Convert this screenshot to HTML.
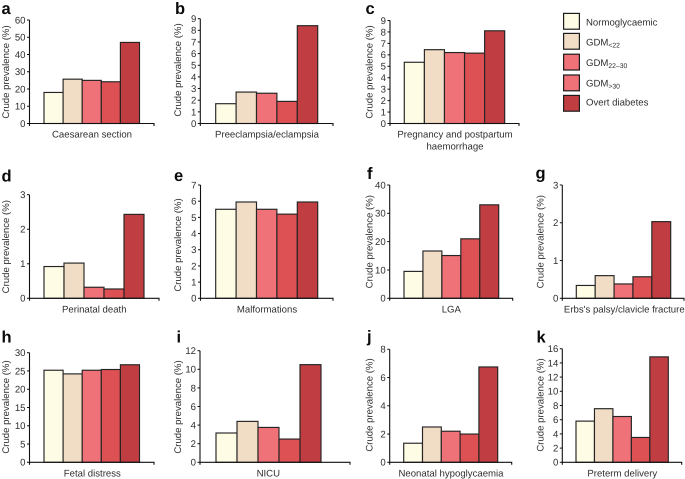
<!DOCTYPE html>
<html lang="en">
<head>
<meta charset="utf-8">
<title>Crude prevalence of pregnancy outcomes by glycaemic group</title>
<style>
html,body{margin:0;padding:0;background:#fff;}
svg{display:block;font-family:"Liberation Sans",Arial,sans-serif;text-rendering:geometricPrecision;}
.t{fill:#2e2e2e;font-size:9.6px;}
.l{fill:#0a0a0a;font-size:16.5px;font-weight:bold;}
</style>
</head>
<body>
<svg id="fig" xmlns="http://www.w3.org/2000/svg" width="685" height="479" viewBox="0 0 685 479">
  <g>
    <rect x="563.6" y="13.4" width="15.8" height="15.8" fill="#fffce6" stroke="#1c1c1c" stroke-width="1.2"/>
    <text class="t" x="586" y="25.3">Normoglycaemic</text>
    <rect x="563.6" y="33.4" width="15.8" height="15.8" fill="#f1dcc5" stroke="#1c1c1c" stroke-width="1.2"/>
    <text class="t" x="586" y="45.3">GDM<tspan font-size="6.8" dy="2">&lt;22</tspan></text>
    <rect x="563.6" y="54.2" width="15.8" height="15.8" fill="#ee7277" stroke="#1c1c1c" stroke-width="1.2"/>
    <text class="t" x="586" y="66">GDM<tspan font-size="6.8" dy="2">22–30</tspan></text>
    <rect x="563.6" y="75" width="15.8" height="15.8" fill="#ee7277" stroke="#1c1c1c" stroke-width="1.2"/>
    <text class="t" x="586" y="86.7">GDM<tspan font-size="6.8" dy="2">&gt;30</tspan></text>
    <rect x="563.6" y="95.4" width="15.8" height="15.8" fill="#c03e41" stroke="#1c1c1c" stroke-width="1.2"/>
    <text class="t" x="586" y="105.7">Overt diabetes</text>
  </g>
</svg>
<script>
const categories = ['Normoglycaemic', 'GDM<22', 'GDM22-30', 'GDM>30', 'Overt diabetes'];

const valuesA = [18, 25.7, 25, 24.2, 47];
const valuesB = [1.7, 2.7, 2.6, 1.9, 8.4];
const valuesC = [5.35, 6.45, 6.2, 6.15, 8.1];
const valuesD = [0.92, 1.02, 0.32, 0.27, 2.43];
const valuesE = [5.5, 5.95, 5.5, 5.2, 5.95];
const valuesF = [9.5, 16.7, 15.1, 21, 33];
const valuesG = [0.34, 0.6, 0.38, 0.57, 2.03];
const valuesH = [25.2, 24.2, 25.2, 25.4, 26.7];
const valuesI = [3.15, 4.4, 3.75, 2.5, 10.5];
const valuesJ = [1.35, 2.5, 2.2, 2, 6.75];
const valuesK = [5.8, 7.55, 6.45, 3.5, 14.85];

const ticksA = [0, 10, 20, 30, 40, 50, 60];
const ticksB = [0, 1, 2, 3, 4, 5, 6, 7, 8, 9];
const ticksC = [0, 1, 2, 3, 4, 5, 6, 7, 8, 9];
const ticksD = [0, 1, 2, 3];
const ticksE = [0, 1, 2, 3, 4, 5, 6, 7];
const ticksF = [0, 10, 20, 30, 40];
const ticksG = [0, 1, 2, 3];
const ticksH = [0, 5, 10, 15, 20, 25, 30];
const ticksI = [0, 2, 4, 6, 8, 10, 12];
const ticksJ = [0, 2, 4, 6, 8];
const ticksK = [0, 2, 4, 6, 8, 10, 12, 14, 16];

const colors = ['#fffce6', '#f1dcc5', '#ee7277', '#dd5053', '#c03e41'];

const NS = 'http://www.w3.org/2000/svg';
const fig = document.getElementById('fig');

function mk(parent, tag, attrs, text) {
  const el = document.createElementNS(NS, tag);
  for (const k in attrs) el.setAttribute(k, attrs[k]);
  if (text !== undefined) el.textContent = text;
  parent.appendChild(el);
  return el;
}

function drawPanel(p, values, ticks) {
  const maxV = ticks[ticks.length - 1];
  const yScale = v => p.y0 - (v / maxV) * (p.y0 - p.top);
  const bandW = (p.barR - p.barL) / values.length;
  const xScale = i => p.barL + i * bandW;

  const g = mk(fig, 'g', {});
  
  

  const letter = mk(g, 'text', { class: 'l', x: p.lx, y: p.ly }, p.letter);
  
  

  values.forEach((v, i) => {
    const bar = mk(g, 'rect', {
      x: xScale(i),
      y: yScale(v),
      width: bandW,
      height: p.y0 - yScale(v),
      fill: colors[i],
      stroke: '#242424',
      'stroke-width': 1.15
    });
    
    
  });

  const yAxis = mk(g, 'line', { x1: p.ax, x2: p.ax, y1: p.top, y2: p.y0, stroke: '#111', 'stroke-width': 1.1 });
  
  

  const xAxis = mk(g, 'path', {
    d: 'M' + p.ax + ' ' + (p.y0 + 2.5) + 'V' + p.y0 + 'H' + p.end + 'V' + (p.y0 + 2.5),
    fill: 'none',
    stroke: '#111',
    'stroke-width': 1.1
  });
  
  

  ticks.forEach(t => {
    const mark = mk(g, 'line', { x1: p.ax - 2.5, x2: p.ax, y1: yScale(t), y2: yScale(t), stroke: '#111', 'stroke-width': 1 });
    
    
    const label = mk(g, 'text', { class: 't', x: p.ax - 4, y: yScale(t) + 3.4, 'text-anchor': 'end' }, t);
    
    
  });

  const yTitle = mk(g, 'text', {
    class: 't',
    'text-anchor': 'middle',
    transform: 'translate(' + p.tx + ' ' + p.ty + ') rotate(-90)'
  }, 'Crude prevalence (%)');
  
  

  p.xlabel.forEach((line, i) => {
    const xt = mk(g, 'text', { class: 't', x: p.xc, y: p.xb + i * 12.2, 'text-anchor': 'middle' }, line);
    
    
  });
}

drawPanel({ letter: 'a', lx: 1.5, ly: 14, ax: 29.5, y0: 123.5, top: 20, end: 154, barL: 44, barR: 139.5, tx: 9, ty: 72, xc: 92, xb: 137.7, xlabel: ['Caesarean section'] }, valuesA, ticksA);
drawPanel({ letter: 'b', lx: 175, ly: 14, ax: 200.3, y0: 123.5, top: 18.7, end: 333, barL: 215.7, barR: 317.7, tx: 181, ty: 70, xc: 267, xb: 137.7, xlabel: ['Preeclampsia/eclampsia'] }, valuesB, ticksB);
drawPanel({ letter: 'c', lx: 365.5, ly: 14, ax: 390, y0: 123.5, top: 20.5, end: 519, barL: 404.3, barR: 504.7, tx: 372.7, ty: 72, xc: 455, xb: 137.3, xlabel: ['Pregnancy and postpartum', 'haemorrhage'] }, valuesC, ticksC);
drawPanel({ letter: 'd', lx: 1.5, ly: 181.5, ax: 29.5, y0: 298.3, top: 194.7, end: 159, barL: 44, barR: 144, tx: 9, ty: 246.7, xc: 94.3, xb: 312.3, xlabel: ['Perinatal death'] }, valuesD, ticksD);
drawPanel({ letter: 'e', lx: 174, ly: 181, ax: 200.5, y0: 298.3, top: 185, end: 333, barL: 215.7, barR: 317.7, tx: 181, ty: 245, xc: 267, xb: 312.3, xlabel: ['Malformations'] }, valuesE, ticksE);
drawPanel({ letter: 'f', lx: 367, ly: 179, ax: 389.7, y0: 298.3, top: 185, end: 512.7, barL: 404, barR: 498.7, tx: 372.3, ty: 241.7, xc: 451.3, xb: 312.3, xlabel: ['LGA'] }, valuesF, ticksF);
drawPanel({ letter: 'g', lx: 535.5, ly: 178.5, ax: 562.3, y0: 298.3, top: 185, end: 684, barL: 576.3, barR: 670.7, tx: 543.3, ty: 241.7, xc: 624.3, xb: 312.3, xlabel: ["Erbs's palsy/clavicle fracture"] }, valuesG, ticksG);
drawPanel({ letter: 'h', lx: 1.5, ly: 342.7, ax: 29.5, y0: 462.3, top: 352.7, end: 154, barL: 44, barR: 139.5, tx: 9, ty: 407, xc: 92.3, xb: 476.3, xlabel: ['Fetal distress'] }, valuesH, ticksH);
drawPanel({ letter: 'i', lx: 176.5, ly: 342.7, ax: 200, y0: 462.3, top: 350.7, end: 350, barL: 216, barR: 321, tx: 181, ty: 407, xc: 268.3, xb: 476.3, xlabel: ['NICU'] }, valuesI, ticksI);
drawPanel({ letter: 'j', lx: 367, ly: 342, ax: 389.7, y0: 462.3, top: 349.3, end: 511.7, barL: 403.7, barR: 497.7, tx: 372.3, ty: 405, xc: 451, xb: 476.3, xlabel: ['Neonatal hypoglycaemia'] }, valuesJ, ticksJ);
drawPanel({ letter: 'k', lx: 536.5, ly: 342.7, ax: 562.3, y0: 462.3, top: 348.7, end: 681.7, barL: 576, barR: 668.3, tx: 543.3, ty: 405, xc: 622.3, xb: 476.3, xlabel: ['Preterm delivery'] }, valuesK, ticksK);
</script>
</body>
</html>
